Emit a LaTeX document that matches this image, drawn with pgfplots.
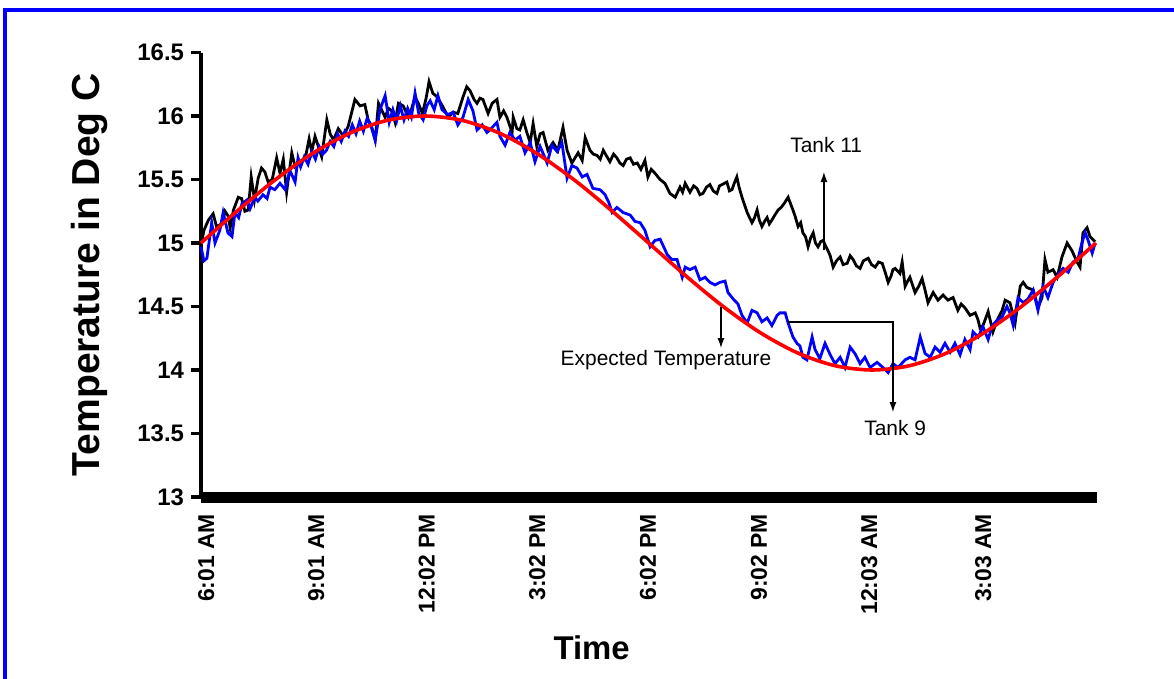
\documentclass[border=0pt]{standalone}
\usepackage{fontspec}
\setmainfont{Liberation Sans}
\usepackage{pgfplots}
\usepackage{pgfplotstable}
\pgfplotsset{compat=1.18}
\usetikzlibrary{arrows.meta}

\pgfplotstableread{
t y
0.00 14.98
0.08 15.10
0.20 15.18
0.33 15.23
0.42 15.13
0.56 15.15
0.65 15.25
0.74 15.21
0.79 15.12
0.88 15.26
1.01 15.36
1.10 15.35
1.19 15.25
1.28 15.26
1.36 15.52
1.45 15.34
1.55 15.51
1.64 15.59
1.73 15.56
1.82 15.48
1.93 15.50
2.05 15.67
2.14 15.55
2.23 15.66
2.32 15.40
2.46 15.71
2.55 15.60
2.68 15.63
2.82 15.66
2.93 15.82
3.00 15.72
3.09 15.84
3.27 15.68
3.41 15.97
3.50 15.86
3.59 15.81
3.72 15.90
3.86 15.84
3.99 15.92
4.17 16.13
4.31 16.08
4.44 16.09
4.53 15.97
4.62 15.92
4.72 15.81
4.81 16.10
4.99 15.99
5.08 16.06
5.17 16.04
5.26 15.95
5.35 16.10
5.48 16.08
5.62 15.99
5.70 16.05
5.80 16.15
5.89 16.10
6.00 16.02
6.10 16.14
6.18 16.27
6.28 16.18
6.40 16.15
6.56 16.07
6.70 15.99
6.83 16.03
6.96 16.02
7.10 16.15
7.20 16.23
7.29 16.20
7.40 16.13
7.48 16.10
7.56 16.14
7.64 16.13
7.78 16.02
7.89 16.10
8.02 16.13
8.10 15.99
8.20 16.04
8.29 15.99
8.43 15.87
8.46 15.99
8.56 15.90
8.64 15.89
8.73 15.97
8.83 15.87
8.92 15.79
9.00 15.94
9.10 15.76
9.19 15.86
9.27 15.87
9.40 15.73
9.54 15.79
9.67 15.73
9.81 15.91
9.92 15.73
10.05 15.63
10.22 15.71
10.33 15.65
10.41 15.83
10.54 15.73
10.63 15.70
10.73 15.69
10.82 15.66
10.90 15.73
11.00 15.68
11.08 15.64
11.18 15.70
11.27 15.67
11.35 15.63
11.44 15.61
11.53 15.66
11.63 15.67
11.72 15.62
11.82 15.63
11.92 15.58
12.03 15.65
12.11 15.52
12.20 15.58
12.30 15.55
12.44 15.50
12.57 15.47
12.71 15.39
12.85 15.36
12.98 15.44
13.05 15.40
13.12 15.47
13.25 15.40
13.35 15.45
13.44 15.43
13.52 15.38
13.60 15.39
13.70 15.44
13.79 15.46
13.88 15.41
13.98 15.39
14.05 15.45
14.12 15.46
14.25 15.48
14.32 15.41
14.39 15.42
14.45 15.47
14.52 15.52
14.58 15.44
14.66 15.36
14.73 15.30
14.80 15.24
14.93 15.16
15.00 15.20
15.07 15.26
15.13 15.18
15.20 15.13
15.27 15.17
15.34 15.20
15.40 15.15
15.47 15.18
15.55 15.22
15.64 15.26
15.72 15.28
15.80 15.31
15.91 15.36
16.04 15.26
16.10 15.21
16.18 15.13
16.25 15.16
16.31 15.08
16.38 15.05
16.45 14.97
16.52 15.04
16.59 15.08
16.65 15.00
16.72 14.97
16.79 15.01
16.86 15.02
16.92 14.98
16.99 14.94
17.05 14.90
17.13 14.81
17.22 14.86
17.32 14.89
17.40 14.83
17.51 14.84
17.59 14.90
17.67 14.87
17.76 14.82
17.86 14.80
17.95 14.86
18.08 14.88
18.17 14.83
18.27 14.81
18.36 14.85
18.46 14.84
18.55 14.76
18.62 14.69
18.70 14.74
18.75 14.79
18.81 14.80
18.94 14.76
19.00 14.85
19.08 14.66
19.15 14.70
19.21 14.73
19.35 14.61
19.45 14.66
19.54 14.72
19.62 14.63
19.70 14.53
19.84 14.61
19.97 14.55
20.11 14.59
20.24 14.55
20.38 14.57
20.51 14.47
20.60 14.52
20.70 14.49
20.84 14.43
20.98 14.45
21.05 14.40
21.11 14.33
21.19 14.35
21.33 14.46
21.46 14.30
21.57 14.39
21.71 14.47
21.79 14.55
21.92 14.53
22.06 14.37
22.20 14.66
22.28 14.69
22.38 14.65
22.55 14.63
22.68 14.49
22.79 14.57
22.87 14.87
22.95 14.77
23.09 14.79
23.20 14.73
23.33 14.89
23.47 15.00
23.60 14.94
23.74 14.85
23.82 14.81
23.90 15.08
24.01 15.12
24.09 15.05
24.23 15.01
}\tankeleven

\pgfplotstableread{
t y
0.00 14.97
0.08 14.86
0.16 14.88
0.29 15.16
0.38 15.00
0.51 15.10
0.60 15.24
0.73 15.08
0.84 15.05
0.92 15.24
1.02 15.20
1.11 15.31
1.25 15.34
1.33 15.27
1.46 15.36
1.54 15.33
1.68 15.38
1.79 15.35
1.87 15.44
2.00 15.42
2.14 15.47
2.28 15.42
2.41 15.57
2.55 15.48
2.63 15.67
2.70 15.60
2.80 15.68
2.90 15.62
3.00 15.72
3.10 15.66
3.20 15.76
3.30 15.70
3.40 15.73
3.50 15.80
3.60 15.76
3.70 15.86
3.80 15.80
3.90 15.88
4.00 15.84
4.10 15.93
4.20 15.86
4.30 15.96
4.40 15.88
4.50 15.98
4.60 15.93
4.72 15.81
4.85 16.05
4.99 16.16
5.10 15.95
5.20 16.05
5.30 15.96
5.40 16.08
5.50 15.97
5.60 16.06
5.70 15.99
5.80 16.18
5.90 16.02
6.02 15.97
6.12 16.08
6.21 16.12
6.32 16.05
6.42 16.16
6.53 16.05
6.69 16.01
6.83 16.03
6.96 15.93
7.10 15.99
7.24 16.13
7.37 16.04
7.48 15.89
7.62 15.93
7.75 15.87
7.89 15.91
8.02 15.95
8.10 15.84
8.24 15.77
8.37 15.87
8.51 15.81
8.64 15.84
8.78 15.71
8.92 15.79
9.05 15.64
9.19 15.76
9.38 15.63
9.51 15.77
9.65 15.72
9.78 15.79
9.92 15.51
10.05 15.61
10.19 15.59
10.33 15.52
10.46 15.54
10.62 15.43
10.81 15.42
10.95 15.38
11.05 15.32
11.14 15.24
11.27 15.28
11.44 15.24
11.63 15.22
11.76 15.17
11.90 15.16
12.03 15.10
12.17 14.97
12.30 15.02
12.44 15.03
12.57 14.95
12.63 14.91
12.76 14.87
12.90 14.87
13.04 14.73
13.12 14.81
13.25 14.79
13.39 14.81
13.52 14.71
13.66 14.73
13.79 14.69
13.93 14.67
14.06 14.69
14.20 14.70
14.28 14.61
14.42 14.56
14.55 14.52
14.66 14.43
14.80 14.37
14.93 14.47
15.07 14.45
15.20 14.38
15.34 14.41
15.47 14.35
15.61 14.43
15.69 14.45
15.83 14.45
15.91 14.37
16.04 14.26
16.15 14.21
16.23 14.19
16.31 14.10
16.42 14.08
16.56 14.26
16.64 14.16
16.77 14.09
16.91 14.21
17.05 14.12
17.18 14.05
17.32 14.10
17.45 14.02
17.59 14.18
17.72 14.13
17.86 14.05
17.99 14.10
18.13 14.02
18.32 14.06
18.48 14.02
18.62 13.98
18.75 14.05
18.89 14.02
19.08 14.08
19.21 14.10
19.35 14.08
19.49 14.26
19.62 14.13
19.76 14.10
19.89 14.18
20.03 14.14
20.16 14.21
20.30 14.14
20.43 14.21
20.57 14.12
20.70 14.24
20.84 14.16
20.92 14.30
21.06 14.26
21.19 14.34
21.33 14.24
21.44 14.35
21.57 14.39
21.71 14.42
21.84 14.50
21.92 14.45
22.01 14.35
22.14 14.57
22.28 14.53
22.41 14.56
22.55 14.63
22.68 14.47
22.82 14.66
22.95 14.57
23.09 14.69
23.22 14.75
23.36 14.80
23.50 14.77
23.63 14.85
23.77 14.88
23.87 15.00
23.96 15.08
24.04 15.02
24.15 14.92
24.23 15.00
}\tanknine

\pgfplotstableread{
t y
0.00 15.000
1.01 15.259
2.02 15.500
3.03 15.707
4.04 15.866
5.05 15.966
6.06 16.000
7.07 15.966
8.08 15.866
9.09 15.707
10.10 15.500
11.11 15.259
12.13 15.000
13.14 14.741
14.15 14.500
15.16 14.293
16.17 14.134
17.18 14.034
18.19 14.000
19.20 14.034
20.21 14.134
21.22 14.293
22.23 14.500
23.24 14.741
24.25 15.000
}\expected

\begin{document}
\begin{tikzpicture}
\useasboundingbox (-100.5bp,-91bp) rectangle (486.5bp,248.5bp);
\draw[color={rgb,255:red,0;green,0;blue,255}, line width=1.6bp] (-98bp,-95bp) -- (-98bp,243.5bp) -- (490bp,243.5bp);
\begin{axis}[
  at={(0,0)}, anchor=south west,
  scale only axis, width=448bp, height=222.25bp,
  xmin=0, xmax=24.28, ymin=13, ymax=16.5,
  axis lines=left, axis line style={-},
  x axis line style={line width=5.5bp},
  y axis line style={line width=1.6bp},
  xtick={0.14,3.12,6.12,9.11,12.11,15.12,18.11,21.2},
  xticklabels={6:01 AM,9:01 AM,12:02 PM,3:02 PM,6:02 PM,9:02 PM,12:03 AM,3:03 AM},
  xtick style={draw=none},
  ytick={13,13.5,14,14.5,15,15.5,16,16.5},
  ytick style={line width=1.6bp, black},
  tick align=outside, major tick length=5bp,
  /pgf/number format/assume math mode=true,
  yticklabel style={font=\bfseries\fontsize{12}{14}\selectfont},
  xticklabel style={font=\bfseries\fontsize{11.5}{14}\selectfont, rotate=90, anchor=east},
  xlabel={Time}, ylabel={Temperature in Deg C},
  xlabel style={font=\bfseries\fontsize{16.5}{18}\selectfont, at={(axis description cs:0.436,-0.34)}, anchor=center},
  ylabel style={font=\bfseries\fontsize{19.6}{22}\selectfont, at={(axis description cs:-0.124,0.5)}, anchor=center},
  clip=false,
]
\addplot[black, line width=1.4bp] table[x=t,y=y] {\tankeleven};
\addplot[color={rgb,255:red,0;green,0;blue,255}, line width=1.4bp] table[x=t,y=y] {\tanknine};
\addplot[color={rgb,255:red,255;green,0;blue,0}, line width=1.8bp, smooth] table[x=t,y=y] {\expected};

\draw[-{Latex[length=5bp,width=3.5bp]}, line width=0.6bp] (axis cs:16.88,14.945) -- (axis cs:16.88,15.559);
\node[font=\fontsize{10.5}{12}\selectfont] at (axis cs:16.94,15.772) {Tank 11};
\draw[-{Latex[length=5bp,width=3.5bp]}, line width=0.6bp] (axis cs:14.09,14.496) -- (axis cs:14.09,14.173);
\node[font=\fontsize{10.5}{12}\selectfont] at (axis cs:12.60,14.079) {Expected Temperature};
\draw[-{Latex[length=5bp,width=3.5bp]}, line width=0.6bp] (axis cs:15.91,14.378) -- (axis cs:18.75,14.378) -- (axis cs:18.75,13.669);
\node[font=\fontsize{10.5}{12}\selectfont] at (axis cs:18.81,13.543) {Tank 9};
\end{axis}
\end{tikzpicture}
\end{document}
